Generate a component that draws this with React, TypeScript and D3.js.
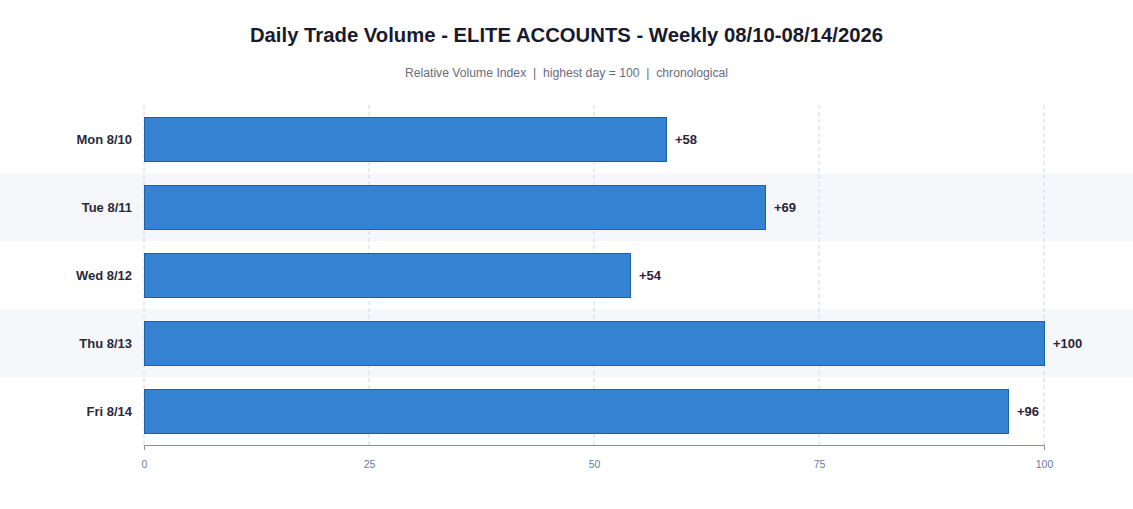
import React, { useEffect, useRef } from 'react'
import * as d3 from 'd3'

const days = ['Mon 8/10', 'Tue 8/11', 'Wed 8/12', 'Thu 8/13', 'Fri 8/14']
const volumes = [58, 69, 54, 100, 96]
const xTicks = [0, 25, 50, 75, 100]

const width = 1133
const height = 509
const margin = { top: 105, right: 89, bottom: 64, left: 144 }

const App: React.FC = () => {
  const svgRef = useRef<SVGSVGElement | null>(null)

  useEffect(() => {
    if (!svgRef.current) return
    const svg = d3.select(svgRef.current)
    svg.selectAll('*').remove()

    const font = '"Liberation Sans", Arial, sans-serif'

    const x = d3
      .scaleLinear()
      .domain([0, 100])
      .range([margin.left, width - margin.right])

    const y = d3
      .scaleBand()
      .domain(days)
      .range([margin.top, height - margin.bottom])
      .padding(0)

    const barH = 44

    // zebra rows
    svg
      .append('g')
      .selectAll('rect')
      .data(days.filter((_, i) => i % 2 === 1))
      .join('rect')
      .attr('x', 0)
      .attr('y', (d) => y(d)!)
      .attr('width', width)
      .attr('height', y.bandwidth())
      .attr('fill', '#f6f7fb')

    // grid
    svg
      .append('g')
      .selectAll('line')
      .data(xTicks)
      .join('line')
      .attr('x1', (d) => x(d))
      .attr('x2', (d) => x(d))
      .attr('y1', margin.top)
      .attr('y2', height - margin.bottom)
      .attr('stroke', '#d0d3e3')
      .attr('stroke-dasharray', '4,3')
      .attr('stroke-width', 1)

    // bars
    svg
      .append('g')
      .selectAll('rect')
      .data(volumes)
      .join('rect')
      .attr('x', x(0) + 0.5)
      .attr('y', (_, i) => Math.round(y(days[i])! + (y.bandwidth() - barH) / 2) + 0.5)
      .attr('width', (d) => x(d) - x(0))
      .attr('height', barH)
      .attr('fill', '#3582d2')
      .attr('stroke', '#1f5fa6')
      .attr('stroke-width', 1)

    // value labels
    svg
      .append('g')
      .selectAll('text')
      .data(volumes)
      .join('text')
      .attr('x', (d) => x(d) + 9)
      .attr('y', (_, i) => y(days[i])! + y.bandwidth() / 2)
      .attr('dy', '0.35em')
      .attr('font-family', font)
      .attr('font-size', 13)
      .attr('font-weight', 'bold')
      .attr('fill', '#2a2438')
      .text((d) => `+${d}`)

    // day labels
    svg
      .append('g')
      .selectAll('text')
      .data(days)
      .join('text')
      .attr('x', margin.left - 12)
      .attr('y', (d) => y(d)! + y.bandwidth() / 2)
      .attr('dy', '0.35em')
      .attr('text-anchor', 'end')
      .attr('font-family', font)
      .attr('font-size', 13)
      .attr('font-weight', 'bold')
      .attr('fill', '#2a2a3a')
      .text((d) => d)

    // x axis
    const axis = svg
      .append('g')
      .attr('transform', `translate(0,${height - margin.bottom})`)
      .call(
        d3
          .axisBottom(x)
          .tickValues(xTicks)
          .tickSizeInner(0)
          .tickSizeOuter(5)
          .tickPadding(16)
      )
    axis.select('.domain').attr('stroke', '#8a8c9c')
    axis
      .selectAll('text')
      .attr('font-family', font)
      .attr('font-size', 10.5)
      .attr('fill', '#6a7a9c')

    // title
    svg
      .append('text')
      .attr('x', width / 2)
      .attr('y', 42)
      .attr('text-anchor', 'middle')
      .attr('font-family', font)
      .attr('font-size', 20.3)
      .attr('font-weight', 'bold')
      .attr('fill', '#1a1a2e')
      .text('Daily Trade Volume - ELITE ACCOUNTS - Weekly 08/10-08/14/2026')

    svg
      .append('text')
      .attr('x', width / 2)
      .attr('y', 77)
      .attr('text-anchor', 'middle')
      .attr('font-family', font)
      .attr('font-size', 12.2)
      .attr('fill', '#6b6b7e')
      .attr('xml:space', 'preserve')
      .style('white-space', 'pre')
      .text('Relative Volume Index  |  highest day = 100  |  chronological')
  }, [])

  return (
    <svg
      ref={svgRef}
      width={width}
      height={height}
      style={{ position: 'absolute', left: 0, top: 0, background: '#fff' }}
    ></svg>
  )
}

export default App
